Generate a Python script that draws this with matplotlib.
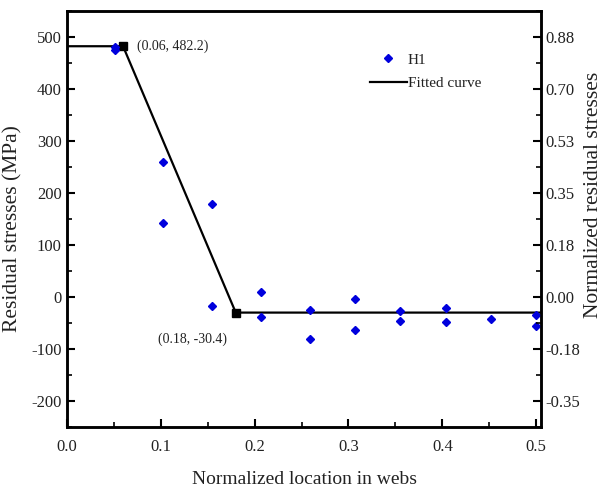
import matplotlib
matplotlib.use("Agg")
import matplotlib.pyplot as plt
from matplotlib.ticker import MultipleLocator, FixedLocator

plt.rcParams['font.family'] = ['Liberation Serif', 'DejaVu Serif']
plt.rcParams['axes.unicode_minus'] = False

# Measured data (H1)
x_h1 = [0.051, 0.051, 0.103, 0.103, 0.155, 0.155, 0.207, 0.207, 0.259, 0.259,
        0.307, 0.307, 0.355, 0.355, 0.404, 0.404, 0.452, 0.500, 0.500]
y_h1 = [481, 475, 260, 142, 179, -17, 9, -39, -25, -81,
        -4, -64, -28, -46, -22, -48, -42, -35, -57]

# Fitted curve
x_fit = [0.0, 0.06, 0.18, 0.505]
y_fit = [482.2, 482.2, -30.4, -30.4]
x_knots = [0.06, 0.18]
y_knots = [482.2, -30.4]
knot_labels = ["(0.06, 482.2)", "(0.18, -30.4)"]

x_ticks = [0.0, 0.1, 0.2, 0.3, 0.4, 0.5]
y_ticks = [-200, -100, 0, 100, 200, 300, 400, 500]
right_labels = ["-0.35", "-0.18", "0.00", "0.18", "0.35", "0.53", "0.70", "0.88"]

TXT = '#222222'
W, H = 603, 493

fig = plt.figure(figsize=(6.03, 4.93), dpi=100)
ax = fig.add_axes([66.7 / W, 1 - 426.7 / H, (541 - 66.7) / W, (426.7 - 11) / H])

ax.plot(x_fit, y_fit, color='black', lw=1.6, label='Fitted curve', zorder=2)
ax.plot(x_knots, y_knots, ls='none', marker='s', ms=6, color='black', zorder=3)
ax.plot(x_h1, y_h1, ls='none', marker='D', ms=4, color='#0000dd', label='H1',
        clip_on=False, zorder=4)

ax.set_xlim(0, 0.505)
ax.set_ylim(-250, 550)
ax.xaxis.set_major_locator(FixedLocator(x_ticks))
ax.xaxis.set_minor_locator(FixedLocator([0.05, 0.15, 0.25, 0.35, 0.45]))
ax.yaxis.set_major_locator(FixedLocator(y_ticks))
ax.yaxis.set_minor_locator(MultipleLocator(50))
ax.set_xticklabels([f"{v:.1f}" for v in x_ticks])
ax.tick_params(which='both', direction='in', labelsize=12, labelcolor=TXT)
ax.tick_params(which='major', length=6, width=1.5)
ax.tick_params(which='minor', length=3.5, width=1.2)
ax.tick_params(axis='x', pad=9)
for s in ax.spines.values():
    s.set_linewidth(1.8)

ax2 = ax.twinx()
ax2.set_ylim(-250, 550)
ax2.yaxis.set_major_locator(FixedLocator(y_ticks))
ax2.yaxis.set_minor_locator(MultipleLocator(50))
ax2.set_yticklabels(right_labels)
ax2.tick_params(which='both', direction='in', labelsize=12, labelcolor=TXT)
ax2.tick_params(which='major', length=6, width=1.5)
ax2.tick_params(which='minor', length=3.5, width=1.2)
for s in ax2.spines.values():
    s.set_linewidth(1.8)

fig.text(304 / W, 1 - 480 / H, "Normalized location in webs", fontsize=14,
         color=TXT, ha='center', va='center')
fig.text(13 / W, 1 - 229 / H, "Residual stresses (MPa)", fontsize=15.5,
         color=TXT, ha='center', va='center', rotation=90)
fig.text(593 / W, 1 - 195 / H, "Normalized residual stresses", fontsize=15.5,
         color=TXT, ha='center', va='center', rotation=90)

ax.annotate(knot_labels[0], (x_knots[0], y_knots[0]), xytext=(10, 0),
            textcoords='offset points', fontsize=10, color=TXT,
            ha='left', va='center')
ax.annotate(knot_labels[1], (x_knots[1], y_knots[1]), xytext=(-6, -19.5),
            textcoords='offset points', fontsize=10, color=TXT,
            ha='right', va='center')

h, l = ax.get_legend_handles_labels()
order = [l.index('H1'), l.index('Fitted curve')]
ax.legend([h[i] for i in order], [l[i] for i in order], loc='upper left',
          bbox_to_anchor=(364 / W, 1 - 47 / H), bbox_transform=fig.transFigure,
          frameon=False, fontsize=11, handlelength=2.4, handletextpad=0.05,
          labelspacing=0.65, labelcolor=TXT, borderaxespad=0)

fig.savefig("out.png", dpi=100)
